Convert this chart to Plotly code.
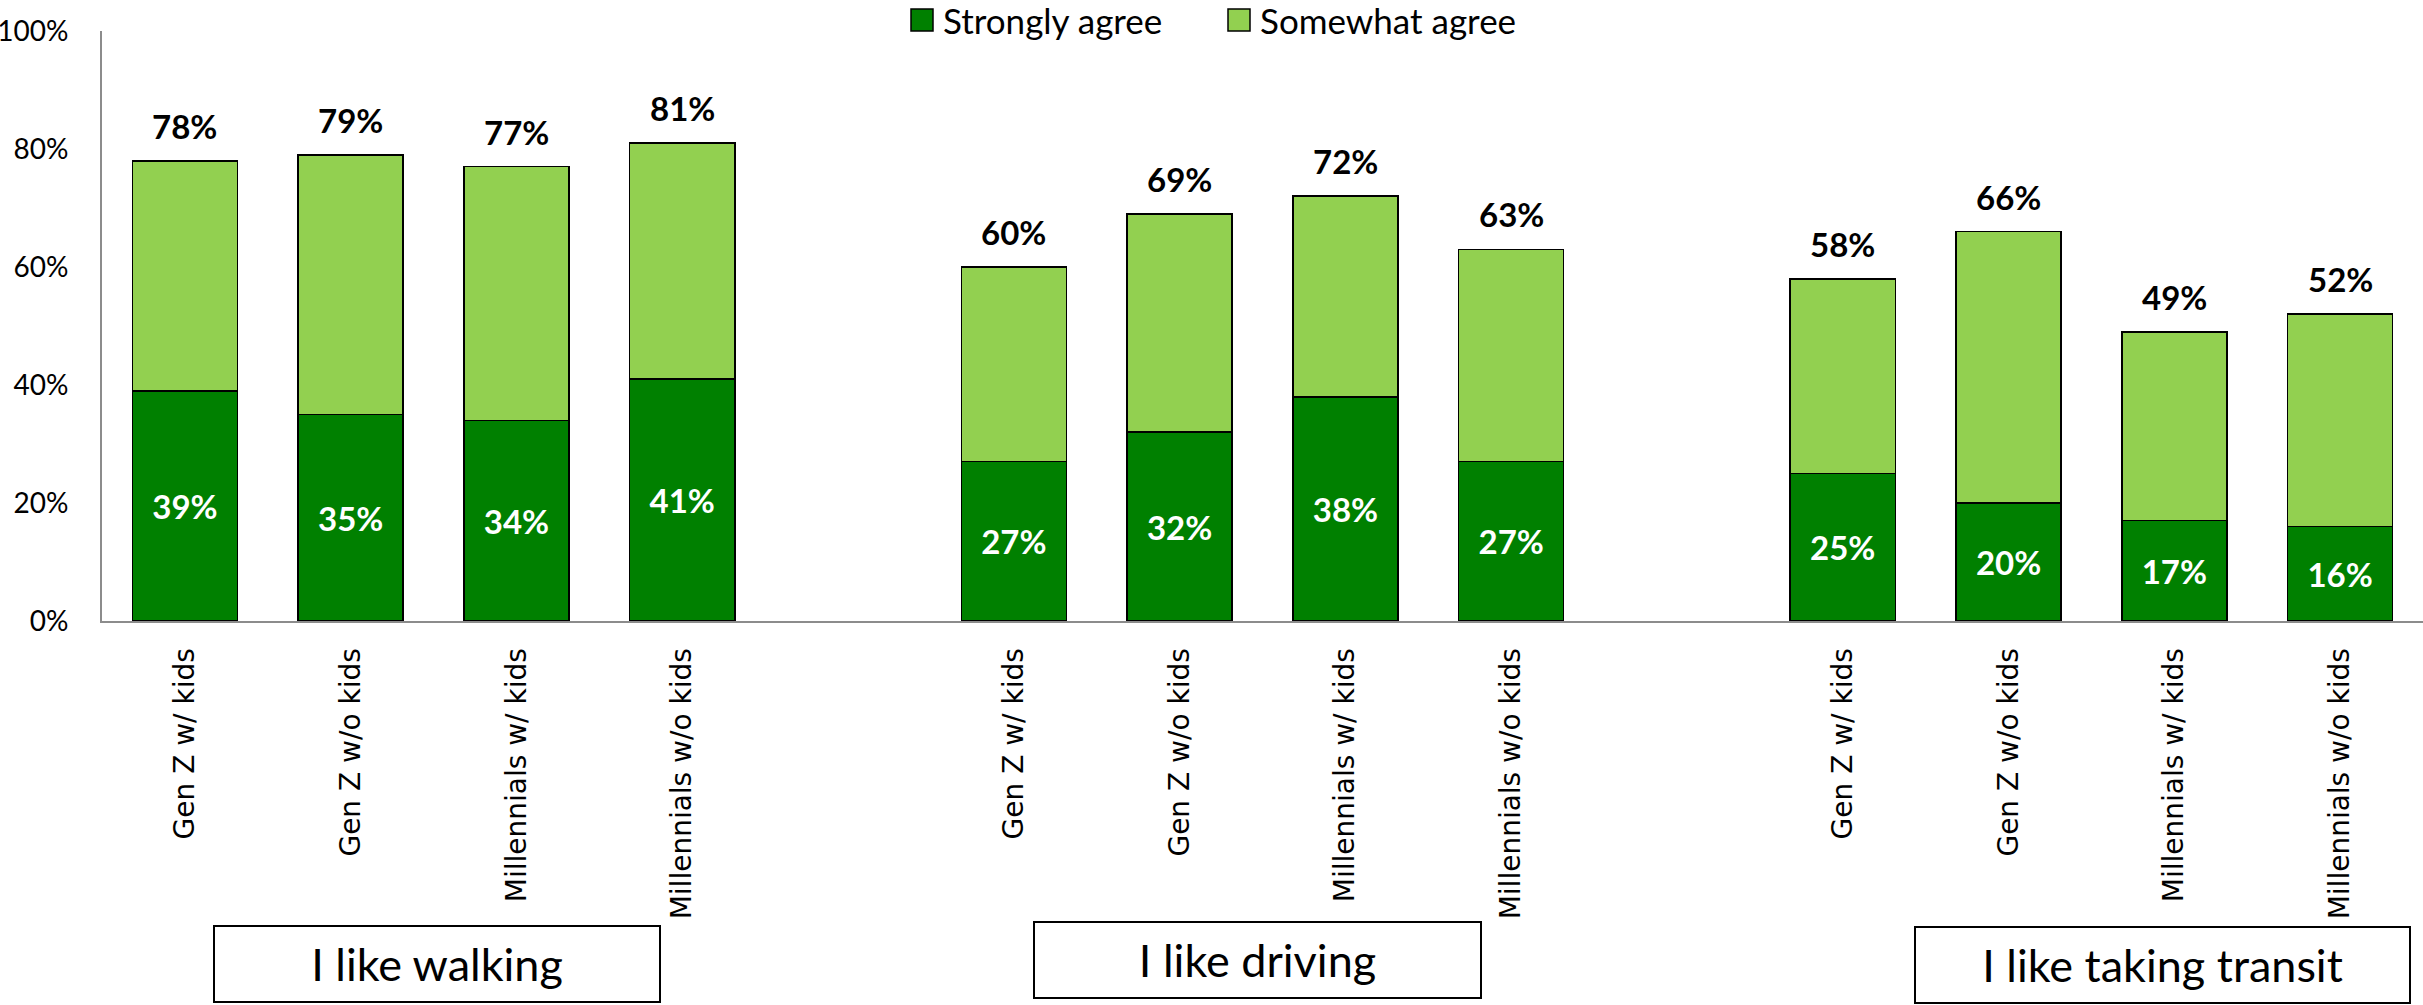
import plotly.graph_objects as go

groups = ["I like walking", "I like driving", "I like taking transit"]
segments = ["Gen Z w/ kids", "Gen Z w/o kids", "Millennials w/ kids", "Millennials w/o kids"]

strongly_agree = [0.39, 0.35, 0.34, 0.41,
                  0.27, 0.32, 0.38, 0.27,
                  0.25, 0.20, 0.17, 0.16]
somewhat_agree = [0.39, 0.44, 0.43, 0.40,
                  0.33, 0.37, 0.34, 0.36,
                  0.33, 0.46, 0.32, 0.36]

series_names = ["Strongly agree", "Somewhat agree"]
dark_green = "#008000"
light_green = "#92D050"

W, H = 2423, 1005
L, R, T, B = 102, 0, 31, 384
plot_w = W - L - R
plot_h = H - T - B


def px_x(x):
    return (x - L) / plot_w


def px_y(y):
    return (H - B - y) / plot_h


# category keys, with an empty slot between groups
keys, ticktext, order = [], [], []
for gi, g in enumerate(groups):
    for s in segments:
        keys.append(g + "|" + s)
        ticktext.append(s)
    order += keys[-len(segments):]
    if gi < len(groups) - 1:
        order.append("gap%d" % gi)

totals = [a + b for a, b in zip(strongly_agree, somewhat_agree)]

fig = go.Figure()
fig.add_trace(go.Bar(
    x=keys, y=strongly_agree, name=series_names[0],
    marker=dict(color=dark_green, line=dict(color="black", width=1.5)),
    text=["%d%%" % round(v * 100) for v in strongly_agree],
    textposition="inside", insidetextanchor="middle", textangle=0,
    constraintext="none",
    textfont=dict(family="Lato", size=33, color="white", weight="bold"),
    showlegend=False, hoverinfo="skip",
))
fig.add_trace(go.Bar(
    x=keys, y=somewhat_agree, name=series_names[1],
    marker=dict(color=light_green, line=dict(color="black", width=1.5)),
    showlegend=False, hoverinfo="skip",
))

# totals above the stacks
for k, t in zip(keys, totals):
    fig.add_annotation(x=k, y=t, xref="x", yref="y", text="%d%%" % round(t * 100),
                       showarrow=False, yanchor="bottom", yshift=13,
                       font=dict(family="Lato", size=33, color="black", weight="bold"))

# group boxes under the category labels
box_w = [448, 449, 497]
box_dx = [3, -5, 71]
box_y = [964, 960, 965]
for gi, g in enumerate(groups):
    first = order.index(keys[gi * len(segments)])
    last = order.index(keys[(gi + 1) * len(segments) - 1])
    fig.add_annotation(x=(first + last) / 2, y=px_y(box_y[gi]), xref="x", yref="paper",
                       text=g, showarrow=False, xanchor="center", yanchor="middle",
                       xshift=box_dx[gi], width=box_w[gi] - 4, height=74,
                       bordercolor="black", borderwidth=2, borderpad=0,
                       bgcolor="white",
                       font=dict(family="Lato", size=45, color="black"))

# legend drawn by hand so the swatches match
legend_items = [(series_names[0], dark_green, 911, 941),
                (series_names[1], light_green, 1228, 1258)]
for name, col, sx, tx in legend_items:
    fig.add_shape(type="rect", xref="paper", yref="paper",
                  x0=px_x(sx), x1=px_x(sx + 22), y0=px_y(31), y1=px_y(9),
                  fillcolor=col, line=dict(color="black", width=1.5))
    fig.add_annotation(x=px_x(tx), y=px_y(20), xref="paper", yref="paper",
                       text=name, showarrow=False, xanchor="left", yanchor="middle",
                       font=dict(family="Lato", size=35, color="black"))

fig.update_layout(
    width=W, height=H,
    margin=dict(l=L, r=R, t=T, b=B),
    barmode="stack", bargap=0.366,
    plot_bgcolor="white", paper_bgcolor="white",
    showlegend=False,
)
fig.update_xaxes(
    type="category", categoryorder="array", categoryarray=order,
    range=[-0.5, len(order) - 0.5],
    tickmode="array", tickvals=keys, ticktext=ticktext, tickangle=-90,
    tickfont=dict(family="DejaVu Sans", size=28, color="black"),
    ticklabelstandoff=14,
    showline=True, linecolor="#8c8c8c", linewidth=2,
    showgrid=False, ticks="", automargin=False,
)
fig.update_yaxes(
    range=[0, 1], dtick=0.2, tickformat=".0%",
    tickfont=dict(family="Lato", size=28, color="black"),
    ticklabelstandoff=26,
    showline=True, linecolor="#8c8c8c", linewidth=2,
    showgrid=False, zeroline=False, ticks="", automargin=False,
)

fig.write_html("out.html", config={"displayModeBar": False},
               post_script="document.body.style.margin='0';")
